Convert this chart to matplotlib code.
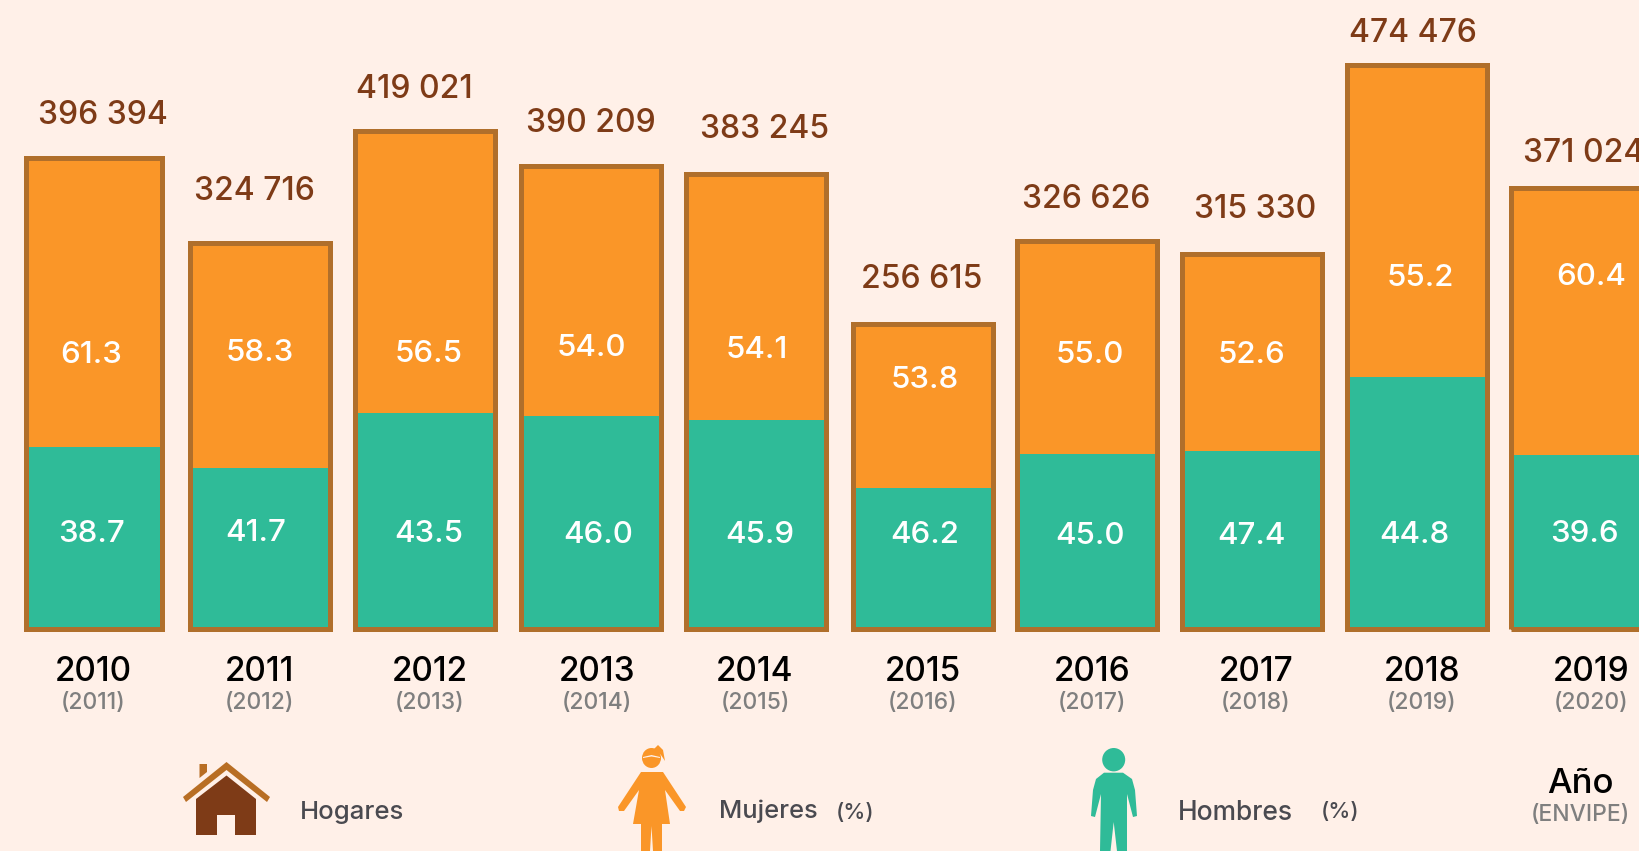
import matplotlib
matplotlib.use("Agg")
import matplotlib.pyplot as plt
from matplotlib.patches import Polygon, Ellipse

plt.rcParams['font.family'] = ['Inter', 'DejaVu Sans']

# datos
anios = ['2010', '2011', '2012', '2013', '2014', '2015', '2016', '2017', '2018', '2019']
envipe = ['(2011)', '(2012)', '(2013)', '(2014)', '(2015)', '(2016)', '(2017)', '(2018)', '(2019)', '(2020)']
hogares = [396394, 324716, 419021, 390209, 383245, 256615, 326626, 315330, 474476, 371024]
mujeres = [61.3, 58.3, 56.5, 54.0, 54.1, 53.8, 55.0, 52.6, 55.2, 60.4]
hombres = [38.7, 41.7, 43.5, 46.0, 45.9, 46.2, 45.0, 47.4, 44.8, 39.6]

# posiciones, en pixeles de la imagen
x_barra = [93.5, 260, 425, 590.5, 756, 923, 1087, 1252, 1416.5, 1581]
w_barra = [136, 140, 140, 140, 140, 140, 140, 140, 140, 140]
x_total = [103, 254, 414, 591, 765, 922, 1086, 1255, 1413, 1584]
y_total = [115, 192, 89, 123, 130, 279, 200, 210, 33, 153]
x_muj = [91, 260, 429, 591, 757, 925, 1090, 1251, 1420, 1591]
y_muj = [355, 353, 354, 348, 350, 380, 355, 355, 278, 277]
x_hom = [91, 256, 429, 598, 760, 925, 1090, 1251, 1414, 1584]
y_hom = [534, 533, 534, 535, 535, 535, 536, 536, 535, 534]
x_anio = [93, 259, 430, 597, 755, 923, 1092, 1256, 1422, 1591]

W, H = 1639, 851
FONDO = '#FFF0E8'
NARANJA = '#FA9628'
VERDE = '#2FBB98'
BORDE = '#B06F2B'
CAFE = '#7E3B17'
CAFE2 = '#B86E24'
GRIS = '#7F7F7F'
OSCURO = '#4A4A50'

fig = plt.figure(figsize=(W / 100, H / 100), dpi=100, facecolor=FONDO)
ax = fig.add_axes([0, 0, 1, 1])
ax.set_facecolor(FONDO)
# eje x en px, un px vertical = 842 hogares, base de barras en y=629
ax.set_xlim(0, W)
ax.set_ylim(-(H - 629) * 842, 629 * 842)
ax.axis('off')

alto_h = [t * p / 100 for t, p in zip(hogares, hombres)]
alto_m = [t * p / 100 for t, p in zip(hogares, mujeres)]
ax.bar(x_barra, alto_h, width=w_barra, color=VERDE, linewidth=0, zorder=2)
ax.bar(x_barra, alto_m, bottom=alto_h, width=w_barra, color=NARANJA, linewidth=0, zorder=2)
ax.bar(x_barra, hogares, width=w_barra, fill=False, edgecolor=BORDE, linewidth=3.6, zorder=3)


def px(x, y):
    return x / W, 1 - y / H


def texto(x, y, s, size, color, ha='center'):
    fig.text(*px(x, y), s, fontsize=size, color=color, ha=ha, va='center', fontweight=500)


for i in range(len(anios)):
    texto(x_total[i], y_total[i], f'{hogares[i]:,}'.replace(',', ' '), 23, CAFE)
    texto(x_muj[i], y_muj[i], f'{mujeres[i]:.1f}', 22.5, 'white')
    texto(x_hom[i], y_hom[i], f'{hombres[i]:.1f}', 22.5, 'white')
    texto(x_anio[i], 672, anios[i], 24, 'black')
    texto(x_anio[i], 703, envipe[i], 16.5, GRIS)


# iconos de la leyenda, en pixeles
def poligono(puntos, color):
    fig.add_artist(Polygon([px(a, b) for a, b in puntos], closed=True, facecolor=color,
                           edgecolor='none', transform=fig.transFigure))


def ovalo(x, y, rx, ry, color):
    fig.add_artist(Ellipse(px(x, y), 2 * rx / W, 2 * ry / H, facecolor=color,
                           edgecolor='none', transform=fig.transFigure))


# casa
poligono([(226.5, 762), (270, 797), (267, 802), (226.5, 770), (186, 802), (183, 797)], CAFE2)
poligono([(199.5, 764), (207, 764), (207, 772), (199.5, 778)], CAFE2)
poligono([(226.5, 775.5), (256, 799), (256, 835), (235, 835), (235, 815), (217, 815), (217, 835),
          (196, 835), (196, 799)], CAFE)

# mujer
ovalo(651.5, 758, 9.5, 10, NARANJA)
poligono([(654, 749), (658, 745), (663, 750), (665, 761), (661, 755)], NARANJA)
poligono([(643, 757), (651.5, 755), (660, 757), (660, 758), (651.5, 756.5), (643, 758)], FONDO)
poligono([(641, 772), (663, 772), (686, 807), (684, 811), (680, 811), (665, 790), (670, 824), (662, 824),
          (662, 851), (653, 851), (651.5, 826), (650, 851), (641, 851), (641, 824), (633, 824), (639, 790),
          (624, 811), (619, 811), (618, 807)], NARANJA)

# hombre
ovalo(1113.7, 759.7, 11.5, 11.7, VERDE)
poligono([(1104, 772.7), (1123, 772.7), (1132, 779), (1135, 790), (1137, 816), (1133, 817), (1127, 794),
          (1127, 851), (1117, 851), (1113.7, 822), (1110.5, 851), (1100, 851), (1101, 794), (1095, 817),
          (1091, 816), (1093, 790), (1096, 779)], VERDE)

# leyenda
texto(300, 813, 'Hogares', 18.5, OSCURO, ha='left')
texto(719, 811, 'Mujeres', 18.4, OSCURO, ha='left')
texto(836, 813, '(%)', 16, OSCURO, ha='left')
texto(1178, 813, 'Hombres', 19, OSCURO, ha='left')
texto(1321, 812, '(%)', 16, OSCURO, ha='left')
texto(1580, 784, 'Año', 25, 'black')
texto(1580, 815, '(ENVIPE)', 16.5, GRIS)

fig.savefig('out.png', dpi=100, facecolor=FONDO)
